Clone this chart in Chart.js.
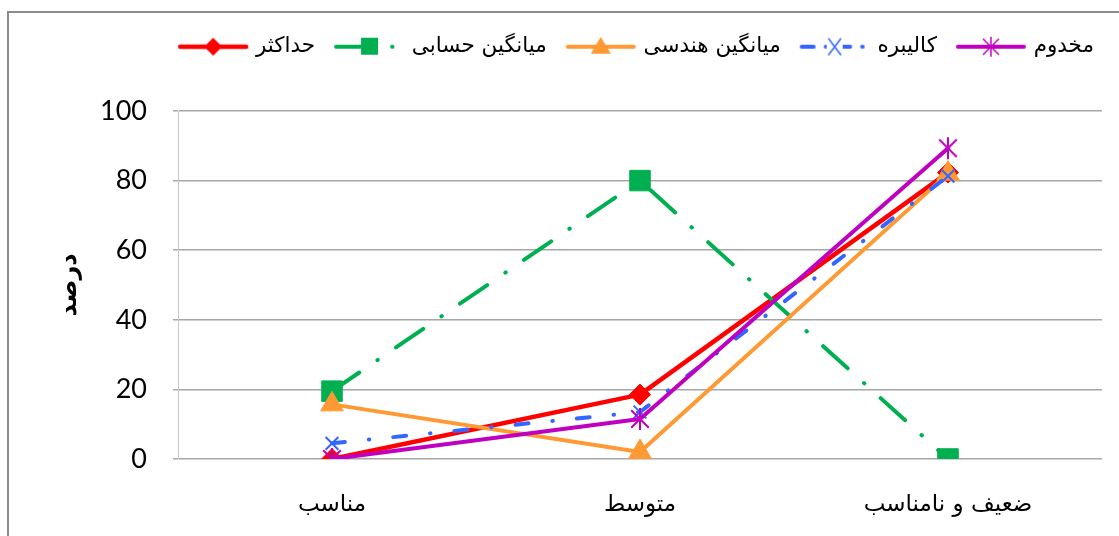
<!DOCTYPE html>
<html>
<head>
<meta charset="utf-8">
<script src="https://cdn.jsdelivr.net/npm/chart.js@4.4.1/dist/chart.umd.min.js"></script>
<style>
  html, body { margin: 0; padding: 0; background: #fff; }
  #wrap { position: relative; width: 1119px; height: 536px; }
</style>
</head>
<body>
<div id="wrap"><canvas id="chart"></canvas></div>
<script>
// categories (left to right) and series values, in percent
const categories = ['مناسب', 'متوسط', 'ضعیف و نامناسب'];
const seriesNames = ['حداکثر', 'میانگین حسابی', 'میانگین هندسی', 'کالیبره', 'مخدوم'];
const maxValues = [0, 18.5, 82.3];
const arithmeticMean = [19.5, 80, 0];
const geometricMean = [15.7, 2, 82];
const calibrated = [4.5, 13.5, 81.3];
const makhdoom = [0, 11.5, 89.3];
const yTicks = [0, 20, 40, 60, 80, 100];
const yTitle = 'درصد';

const ARABIC_FONT = "'DejaVu Sans', sans-serif";
const NUM_FONT = "Lato, 'Open Sans', sans-serif";
const PAD_TOP = 14;
const PLOT_TOP = 111;

// excel-like asterisk marker (x plus vertical stroke)
function makeStar(color, size, lw) {
  const c = document.createElement('canvas');
  c.width = size; c.height = size;
  const g = c.getContext('2d');
  const m = size / 2, r = size / 2 - 1;
  g.strokeStyle = color;
  g.lineWidth = lw;
  g.beginPath();
  g.moveTo(m - r * 0.8, m - r * 0.8); g.lineTo(m + r * 0.8, m + r * 0.8);
  g.moveTo(m + r * 0.8, m - r * 0.8); g.lineTo(m - r * 0.8, m + r * 0.8);
  g.moveTo(m, m - r); g.lineTo(m, m + r);
  g.stroke();
  return c;
}

const starImg = makeStar('#c000c0', 24, 2);

const series = [
  { data: maxValues, color: '#ff0000', width: 4.5, dash: [], point: 'rectRot', radius: 10.5, order: 5 },
  { data: arithmeticMean, color: '#00b050', width: 4, dash: [33, 22, 0.5, 22], legendDash: [36, 20, 0.5, 20], point: 'rect', radius: 14.5, order: 4 },
  { data: geometricMean, color: '#ff9933', width: 4, dash: [], point: 'triangle', radius: 13, order: 3 },
  { data: calibrated, color: '#3366ff', width: 4, dash: [13, 24, 0.5, 24], legendDash: [12, 12, 0.5, 12], point: 'crossRot', radius: 9, order: 2 },
  { data: makhdoom, color: '#c000c0', width: 4, dash: [], point: starImg, radius: 12, order: 1 }
];

// legend icon: short line with the marker in the middle
function legendIcon(s) {
  const w = 72, h = 26;
  const c = document.createElement('canvas');
  c.width = w; c.height = h;
  const g = c.getContext('2d');
  g.strokeStyle = s.color;
  g.lineWidth = s.width;
  g.lineCap = 'round';
  if (s.legendDash) g.setLineDash(s.legendDash);
  g.beginPath(); g.moveTo(3, h / 2); g.lineTo(w - 3, h / 2); g.stroke();
  g.setLineDash([]);
  const x = w / 2, y = h / 2;
  g.fillStyle = s.color;
  if (s.point === 'rectRot') {
    const r = 9;
    g.beginPath(); g.moveTo(x, y - r); g.lineTo(x + r, y); g.lineTo(x, y + r); g.lineTo(x - r, y); g.closePath(); g.fill();
  } else if (s.point === 'rect') {
    g.fillRect(x - 8, y - 9, 17, 17);
  } else if (s.point === 'triangle') {
    g.beginPath(); g.moveTo(x, y - 10); g.lineTo(x + 10, y + 7); g.lineTo(x - 10, y + 7); g.closePath(); g.fill();
  } else if (s.point === 'crossRot') {
    g.clearRect(x - 8, 0, 16, h);
    g.lineWidth = 1.5;
    g.beginPath(); g.moveTo(x - 6, y - 8); g.lineTo(x + 6, y + 8); g.moveTo(x + 6, y - 8); g.lineTo(x - 6, y + 8); g.stroke();
  } else {
    g.drawImage(makeStar(s.color, 22, 1.5), x - 11, y - 11);
  }
  return c;
}

const legendIcons = series.map(legendIcon);

// outer frame like the office chart border
const framePlugin = {
  id: 'frame',
  beforeDraw(chart) {
    const ctx = chart.ctx;
    ctx.save();
    ctx.strokeStyle = '#8c8c8c';
    ctx.lineWidth = 2;
    ctx.strokeRect(8, 12, 1200, 600);
    ctx.restore();
  }
};

// leave room between legend and plot like the original
const legendSpace = {
  id: 'legendSpace',
  beforeLayout(chart) {
    const lg = chart.legend;
    if (lg && !lg._spaced) {
      const fit = lg.fit.bind(lg);
      lg.fit = function () {
        fit();
        this.height = PLOT_TOP - PAD_TOP;
      };
      lg._spaced = true;
    }
  }
};

new Chart(document.getElementById('chart'), {
  type: 'line',
  data: {
    labels: categories,
    datasets: series.map((s, i) => ({
      label: seriesNames[i],
      data: s.data,
      borderColor: s.color,
      backgroundColor: s.color,
      borderWidth: s.width,
      borderDash: s.dash,
      borderCapStyle: 'round',
      borderJoinStyle: 'round',
      pointStyle: s.point,
      pointRadius: s.radius,
      pointHoverRadius: s.radius,
      pointBorderWidth: s.point === 'crossRot' ? 2 : 1,
      pointBorderColor: s.color,
      pointBackgroundColor: s.color,
      tension: 0,
      fill: false,
      order: s.order
    }))
  },
  options: {
    responsive: true,
    maintainAspectRatio: false,
    animation: false,
    events: [],
    layout: { padding: { left: 0, right: 3, top: PAD_TOP, bottom: 0 } },
    scales: {
      x: {
        offset: true,
        grid: { display: false },
        border: { display: false },
        ticks: {
          color: '#000',
          padding: 24,
          font: { family: ARABIC_FONT, size: 23 }
        },
        afterFit(scale) { scale.height = 77; }
      },
      y: {
        min: 0,
        max: 100,
        afterBuildTicks(scale) { scale.ticks = yTicks.map(v => ({ value: v })); },
        grid: { color: '#a6a6a6', lineWidth: 1.5, tickLength: 5, drawTicks: true },
        border: { display: true, color: '#c8c8c8', width: 1 },
        ticks: {
          color: '#000',
          padding: 26,
          font: { family: NUM_FONT, size: 27 }
        },
        title: {
          display: true,
          text: yTitle,
          color: '#000',
          padding: { top: 55, bottom: 0 },
          font: { family: ARABIC_FONT, size: 24, weight: 'bold' }
        },
        afterFit(scale) { scale.width = 178; }
      },
      // empty right strip so the legend can reach further right than the plot
      rightGap: {
        type: 'linear',
        position: 'right',
        display: true,
        grid: { display: false },
        border: { display: false },
        ticks: { display: false },
        afterFit(scale) { scale.width = 14; }
      }
    },
    plugins: {
      legend: {
        position: 'top',
        align: 'end',
        labels: {
          color: '#000',
          font: { family: ARABIC_FONT, size: 21.5 },
          usePointStyle: true,
          pointStyleWidth: 64,
          padding: 22,
          generateLabels(chart) {
            return chart.data.datasets.map((ds, i) => ({
              text: ds.label,
              fillStyle: ds.borderColor,
              strokeStyle: ds.borderColor,
              lineWidth: 0,
              pointStyle: legendIcons[i],
              hidden: false,
              datasetIndex: i
            }));
          }
        }
      },
      tooltip: { enabled: false }
    }
  },
  plugins: [framePlugin, legendSpace]
});
</script>
</body>
</html>
